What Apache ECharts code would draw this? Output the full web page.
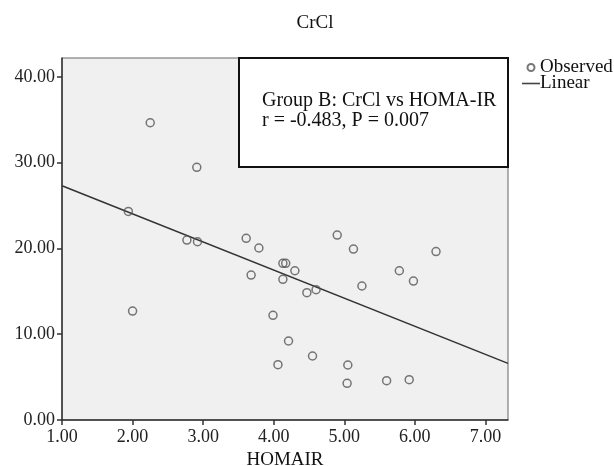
<!DOCTYPE html>
<html>
<head>
<meta charset="utf-8">
<script src="https://cdn.jsdelivr.net/npm/echarts@6/dist/echarts.min.js"></script>
<style>
  html, body { margin: 0; padding: 0; background: #fff; }
  #chart { width: 614px; height: 466px; }
</style>
</head>
<body>
<div id="chart"></div>
<script>
// HOMA-IR vs CrCl
const homair = [2.25, 2.91, 1.94, 2.77, 2.92, 2.00, 3.61, 3.79, 3.68, 4.13, 4.17, 4.30, 4.13, 4.47, 4.60,
  3.99, 4.21, 4.06, 4.55, 4.90, 5.13, 5.25, 5.05, 5.04, 5.60, 5.92, 5.78, 5.98, 6.30]
const crcl = [34.65, 29.45, 24.32, 20.98, 20.78, 12.70, 21.18, 20.05, 16.90, 18.26, 18.26, 17.40, 16.40, 14.84, 15.19,
  12.20, 9.21, 6.45, 7.46, 21.56, 19.93, 15.62, 6.41, 4.28, 4.58, 4.70, 17.40, 16.20, 19.64]

// fit line endpoints
const fitX = [1.00, 7.32]
const fitY = [27.3, 6.6]

const xTicks = [1, 2, 3, 4, 5, 6, 7]
const yTicks = [0, 10, 20, 30, 40]

const noteLines = ['Group B: CrCl vs HOMA-IR', 'r = -0.483, P = 0.007']

const FONT = '"Liberation Serif", "Times New Roman", serif'

const chart = echarts.init(document.getElementById('chart'), null, { renderer: 'canvas' })

function buildOption() {
  const points = homair.map((x, i) => [x, crcl[i]])
  const fit = fitX.map((x, i) => [x, fitY[i]])

  return {
    animation: false,
    backgroundColor: '#fff',
    title: {
      text: 'CrCl',
      left: 310,
      top: 9,
      textAlign: 'center',
      textStyle: { fontFamily: FONT, fontSize: 19, fontWeight: 'normal', color: '#111' }
    },
    grid: {
      left: 62,
      top: 58,
      right: 106,
      bottom: 46,
      outerBoundsMode: 'none',
      containLabel: false,
      show: true,
      backgroundColor: '#f0f0f0',
      borderColor: '#666',
      borderWidth: 1
    },
    legend: {
      orient: 'vertical',
      left: 517,
      top: 53,
      itemGap: -3,
      itemWidth: 18,
      itemHeight: 7,
      textStyle: { fontFamily: FONT, fontSize: 19, color: '#111', padding: [0, 0, 0, -5] },
      data: [
        { name: 'Observed', icon: 'circle' },
        { name: 'Linear', icon: 'path://M0,0H18V1.6H0Z', itemStyle: { color: '#444' } }
      ]
    },
    xAxis: {
      type: 'value',
      min: 1,
      max: 7.32,
      name: 'HOMAIR',
      nameLocation: 'middle',
      nameGap: 24,
      nameTextStyle: { fontFamily: FONT, fontSize: 19, color: '#111' },
      axisLine: { show: true, onZero: false, lineStyle: { color: '#333', width: 1.5 } },
      axisTick: { show: true, length: 5, customValues: xTicks, lineStyle: { color: '#333', width: 1.5 } },
      axisLabel: {
        customValues: xTicks,
        margin: 8,
        fontFamily: FONT,
        fontSize: 18,
        color: '#222',
        formatter: v => v.toFixed(2)
      },
      splitLine: { show: false }
    },
    yAxis: {
      type: 'value',
      min: 0,
      max: 42.2,
      axisLine: { show: true, onZero: false, lineStyle: { color: '#333', width: 1.5 } },
      axisTick: { show: true, length: 5, customValues: yTicks, lineStyle: { color: '#333', width: 1.5 } },
      axisLabel: {
        customValues: yTicks,
        margin: 7,
        fontFamily: FONT,
        fontSize: 18,
        color: '#222',
        formatter: v => v.toFixed(2)
      },
      splitLine: { show: false }
    },
    graphic: [
      {
        type: 'rect',
        z: 50,
        shape: { x: 239, y: 58, width: 269, height: 109 },
        style: { fill: '#fff', stroke: '#111', lineWidth: 2 }
      },
      {
        type: 'text',
        z: 51,
        x: 262,
        y: 101,
        style: { text: noteLines[0], font: '20px ' + FONT, fill: '#111', verticalAlign: 'middle' }
      },
      {
        type: 'text',
        z: 51,
        x: 262,
        y: 121,
        style: { text: noteLines[1], font: '20px ' + FONT, fill: '#111', verticalAlign: 'middle' }
      }
    ],
    series: [
      {
        name: 'Observed',
        type: 'scatter',
        symbol: 'circle',
        symbolSize: 8,
        itemStyle: { color: 'rgba(0,0,0,0)', borderColor: '#555', borderWidth: 1.5 },
        data: points,
        z: 3
      },
      {
        name: 'Linear',
        type: 'line',
        symbol: 'none',
        lineStyle: { color: '#333', width: 1.5 },
        itemStyle: { color: '#555' },
        data: fit,
        z: 2
      }
    ]
  }
}

chart.setOption(buildOption())
</script>
</body>
</html>
